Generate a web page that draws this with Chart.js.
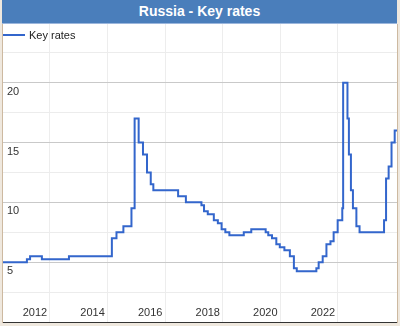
<!DOCTYPE html>
<html>
<head>
<meta charset="utf-8">
<title>Russia - Key rates</title>
<script src="https://cdn.jsdelivr.net/npm/chart.js@4"></script>
<style>
    body { margin: 0; background: #efe8de; font-family: Arial, "Liberation Sans", sans-serif; }
    #wrap { position: relative; width: 400px; height: 326px; }
    #title {
        position: absolute; left: 2px; top: 0; width: 395px; height: 23px;
        background: #4a7ebb; border-bottom: 1px solid #9bb6dc;
        color: #fff; font: bold 14px Arial, "Liberation Sans", sans-serif;
        line-height: 22px; text-align: center;
    }
    #plot {
        position: absolute; left: 2px; top: 24px; width: 394px; height: 299px;
        background: #fff; border-left: 1px solid #cdb9a0; border-right: 1px solid #cdb9a0;
    }
    #legend {
        position: absolute; left: 3px; top: 29px; font-size: 11px; color: #222;
        display: flex; align-items: center;
    }
    #legend .swatch { width: 22px; height: 2px; background: #3366cc; margin-right: 4px; }
</style>
</head>
<body>
<div id="wrap">
    <div id="title">Russia - Key rates</div>
    <div id="plot"><canvas id="chart" width="394" height="299"></canvas></div>
    <div id="legend"><span class="swatch"></span><span>Key rates</span></div>
</div>
<script>
// Rate changes: decimal year of the change, new rate in %
const rateDates = [
    2010.37, 2011.20, 2011.31, 2011.72, 2012.66,
    2014.15, 2014.31, 2014.55, 2014.83, 2014.94,
    2015.08, 2015.23, 2015.37, 2015.50, 2015.59,
    2016.45, 2016.72, 2017.26, 2017.35, 2017.48,
    2017.69, 2017.83, 2017.96, 2018.09, 2018.23,
    2018.73, 2018.99, 2019.49, 2019.58, 2019.71,
    2019.86, 2019.98, 2020.14, 2020.33, 2020.47,
    2020.57, 2021.25, 2021.33, 2021.47, 2021.60,
    2021.74, 2021.85, 2021.99, 2022.15, 2022.18,
    2022.33, 2022.38, 2022.45, 2022.52, 2022.64,
    2022.75, 2023.60, 2023.67, 2023.76, 2023.86,
    2023.97, 2024.05
];
const rateValues = [
    5.0, 5.25, 5.5, 5.25, 5.5,
    7.0, 7.5, 8.0, 9.5, 17.0,
    15.0, 14.0, 12.5, 11.5, 11.0,
    10.5, 10.0, 9.75, 9.25, 9.0,
    8.5, 8.25, 7.75, 7.5, 7.25,
    7.5, 7.75, 7.5, 7.25, 7.0,
    6.5, 6.25, 6.0, 5.5, 4.5,
    4.25, 4.5, 5.0, 5.5, 6.5,
    6.75, 7.5, 8.5, 9.5, 20.0,
    17.0, 14.0, 11.0, 9.5, 8.0,
    7.5, 8.5, 12.0, 13.0, 15.0,
    16.0, 16.0
];

const yearTicks = [2012, 2014, 2016, 2018, 2020, 2022];
const rateTicks = [5, 10, 15, 20];
const rateGridStep = 2.5;

const points = rateDates.map((d, i) => ({ x: d, y: rateValues[i] }));

// labels sit inside the plot, so the axes take no room
function flatten(scale) {
    if (scale.isHorizontal()) scale.height = 0;
    else scale.width = 0;
    scale.paddingTop = 0;
    scale.paddingBottom = 0;
    scale.paddingLeft = 0;
    scale.paddingRight = 0;
}

new Chart(document.getElementById('chart'), {
    type: 'line',
    data: {
        datasets: [{
            label: 'Key rates',
            data: points,
            borderColor: '#3366cc',
            borderWidth: 2,
            pointRadius: 0,
            stepped: true,
            fill: false
        }]
    },
    options: {
        responsive: false,
        animation: false,
        layout: { padding: { bottom: 1 } },
        plugins: {
            legend: { display: false },
            tooltip: { enabled: false }
        },
        scales: {
            x: {
                type: 'linear',
                min: 2010.37,
                max: 2024.05,
                afterBuildTicks: scale => {
                    scale.ticks = yearTicks.map(v => ({ value: v }));
                },
                afterFit: flatten,
                grid: { color: '#ededed', drawTicks: false },
                border: { color: '#333', width: 1 },
                ticks: {
                    mirror: true,
                    padding: 0,
                    labelOffset: -15,
                    color: '#333',
                    font: { family: 'Arial', size: 11, lineHeight: '18px' },
                    callback: v => String(v)
                }
            },
            y: {
                min: 0,
                max: 24.9,
                afterBuildTicks: scale => {
                    const t = [];
                    for (let v = 0; v <= 24.9; v += rateGridStep) t.push({ value: v });
                    scale.ticks = t;
                },
                afterFit: flatten,
                grid: {
                    drawTicks: false,
                    color: ctx => rateTicks.includes(ctx.tick.value) ? '#c9c9c9' : '#ececec'
                },
                border: { display: false },
                ticks: {
                    mirror: true,
                    padding: 4,
                    labelOffset: 9,
                    color: '#333',
                    font: { family: 'Arial', size: 11 },
                    callback: v => rateTicks.includes(v) ? String(v) : ''
                }
            }
        }
    }
});
</script>
</body>
</html>
